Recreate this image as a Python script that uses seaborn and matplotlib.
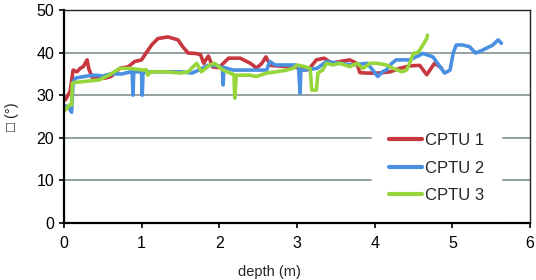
import matplotlib
matplotlib.use("Agg")
import matplotlib.pyplot as plt
import pandas as pd
import seaborn as sns

# depth (m) and friction angle (deg)
depth_1 = [0.02, 0.08, 0.12, 0.17, 0.21, 0.25, 0.30, 0.32, 0.37, 0.53, 0.61, 0.72,
           0.83, 0.91, 1.0, 1.07, 1.13, 1.21, 1.34, 1.47, 1.53, 1.6, 1.7, 1.76, 1.8,
           1.86, 1.92, 2.0, 2.07, 2.12, 2.27, 2.4, 2.48, 2.55, 2.6, 2.66, 2.8, 2.95,
           3.04, 3.12, 3.17, 3.25, 3.35, 3.45, 3.55, 3.68, 3.77, 3.81, 3.9, 4.05,
           4.2, 4.32, 4.45, 4.58, 4.67, 4.77, 4.86]
phi_1 = [28.9, 30.8, 35.9, 35.5, 36.3, 36.7, 38.3, 36.3, 34.0, 34.0, 34.4, 36.3,
         36.7, 37.9, 38.3, 40.2, 41.8, 43.3, 43.7, 43.0, 41.4, 39.9, 39.8, 39.5, 37.5,
         39.2, 36.6, 36.5, 37.8, 38.7, 38.7, 37.5, 36.4, 37.5, 39.0, 37.0, 36.8, 36.6,
         36.4, 35.9, 36.5, 38.3, 38.7, 37.5, 37.9, 38.3, 37.5, 35.3, 35.2, 35.2,
         35.5, 36.3, 36.9, 37.0, 34.8, 37.5, 36.4]

depth_2 = [0.02, 0.07, 0.1, 0.12, 0.15, 0.2, 0.3, 0.4, 0.5, 0.6, 0.75, 0.86, 0.88,
           0.89, 0.9, 0.98, 1.0, 1.01, 1.02, 1.1, 1.3, 1.5, 1.65, 1.75, 1.85, 1.92,
           2.0, 2.04, 2.05, 2.06, 2.1, 2.18, 2.4, 2.61, 2.65, 2.72, 2.97, 3.02, 3.04,
           3.05, 3.08, 3.26, 3.38, 3.55, 3.72, 3.9, 3.94, 4.04, 4.1, 4.15, 4.22, 4.28,
           4.45, 4.58, 4.62, 4.75, 4.84, 4.9, 4.97, 5.01, 5.05, 5.13, 5.22, 5.3, 5.39,
           5.48, 5.52, 5.59, 5.63]
phi_2 = [27.5, 27.0, 26.0, 33.0, 34.0, 34.2, 34.5, 34.7, 34.5, 35.0, 35.0, 35.5, 35.5,
         30.0, 35.5, 35.5, 35.5, 30.0, 35.5, 35.5, 35.5, 35.5, 35.2, 36.0, 37.0, 37.0,
         36.8, 36.5, 32.4, 36.5, 36.3, 35.9, 35.9, 35.9, 37.9, 37.1, 37.1, 36.8, 30.5,
         35.9, 35.9, 36.3, 37.9, 37.5, 37.1, 37.5, 36.7, 34.4, 35.5, 35.9, 37.5, 38.3,
         38.3, 39.4, 39.8, 39.0, 36.7, 35.2, 35.9, 39.9, 41.8, 41.8, 41.4, 39.9, 40.6,
         41.4, 41.8, 43.0, 42.2]

depth_3 = [0.02, 0.07, 0.1, 0.11, 0.15, 0.25, 0.46, 0.59, 0.72, 0.85, 1.02, 1.06,
           1.08, 1.12, 1.3, 1.5, 1.6, 1.71, 1.77, 1.88, 1.94, 2.05, 2.14, 2.19, 2.2,
           2.22, 2.39, 2.48, 2.61, 2.74, 2.87, 2.95, 3.0, 3.1, 3.17, 3.19, 3.25, 3.27,
           3.33, 3.38, 3.46, 3.55, 3.68, 3.77, 3.85, 3.94, 4.03, 4.15, 4.24, 4.35,
           4.41, 4.45, 4.5, 4.54, 4.58, 4.62, 4.67, 4.68]
phi_3 = [26.5, 27.7, 27.7, 32.8, 33.0, 33.2, 33.6, 34.8, 36.3, 36.3, 35.9, 36.0,
         34.7, 35.5, 35.5, 35.2, 35.5, 37.5, 35.5, 37.1, 37.5, 35.9, 35.2, 34.8, 29.3,
         34.7, 34.7, 34.4, 35.2, 35.5, 35.9, 36.3, 37.1, 36.7, 36.3, 31.2, 31.2, 35.2,
         35.9, 37.5, 37.1, 37.5, 36.7, 37.5, 36.3, 37.5, 37.5, 37.1, 36.3, 35.5,
         35.9, 37.5, 39.9, 39.9, 40.6, 41.8, 43.3, 44.1]

labels = ["CPTU 1", "CPTU 2", "CPTU 3"]
colors = ["#c8363f", "#4a90e2", "#97d63b"]

df = pd.concat([
    pd.DataFrame({"depth": d, "phi": p, "test": name})
    for d, p, name in zip([depth_1, depth_2, depth_3], [phi_1, phi_2, phi_3], labels)
], ignore_index=True)

sns.set_style("white")
plt.rcParams["font.family"] = ["Liberation Sans", "DejaVu Sans"]

fig = plt.figure(figsize=(5.36, 2.8), dpi=100)
ax = fig.add_axes([0.119, 0.204, 0.870, 0.760])

sns.lineplot(data=df, x="depth", y="phi", hue="test", palette=colors,
             sort=False, estimator=None, linewidth=2.6, ax=ax)

ax.set_xlim(0, 6)
ax.set_ylim(0, 50)
ax.set_xticks(range(0, 7))
ax.set_yticks(range(0, 51, 10))
for yv in [10, 20, 30, 40]:
    ax.axhline(yv, color="#8c9a9a", linewidth=1.3, zorder=0)

for side in ["left", "bottom"]:
    ax.spines[side].set_linewidth(1.6)
    ax.spines[side].set_color("black")
for side in ["top", "right"]:
    ax.spines[side].set_linewidth(1.0)
    ax.spines[side].set_color("#222222")

ax.tick_params(axis="both", direction="out", length=3.5, width=1.2,
               labelsize=11.5, colors="black", bottom=True, left=True)
ax.tick_params(axis="x", pad=6)

ax.set_xlabel("depth (m)", fontsize=10.5)
ax.xaxis.set_label_coords(0.442, -0.2)
ax.set_ylabel("\u25a1 (°)", fontsize=10.5)
ax.yaxis.set_label_coords(-0.095, 0.5)

leg = ax.legend(loc="upper left", bbox_to_anchor=(0.661, 0.50), borderaxespad=0,
                frameon=True, fontsize=12, handlelength=2.0, handletextpad=0.2,
                borderpad=1.0, labelspacing=0.75)
leg.get_frame().set_facecolor("white")
leg.get_frame().set_edgecolor("white")
leg.get_frame().set_alpha(1)
leg.get_frame().set_boxstyle("square", pad=0)
for line in leg.get_lines():
    line.set_linewidth(3.0)

fig.savefig("out.png", dpi=100)
